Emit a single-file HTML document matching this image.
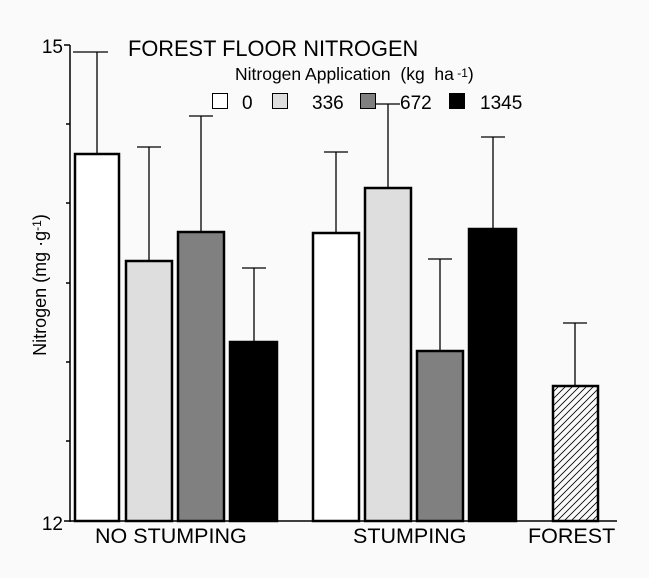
<!DOCTYPE html>
<html><head><style>body{margin:0;background:#fafafa}text{white-space:pre}</style></head><body>
<svg width="649" height="578" xmlns="http://www.w3.org/2000/svg" font-family="Liberation Sans, Arial, sans-serif" style="display:block">
<defs><pattern id="h" width="7" height="7" patternUnits="userSpaceOnUse"><path d="M-1,8 L8,-1 M-1,1 L1,-1 M6,8 L8,6" stroke="#000" stroke-width="0.8"/></pattern></defs>
<rect width="649" height="578" fill="#fafafa"/>
<g stroke="#000" stroke-width="1.5" fill="none">
<line x1="70" y1="45" x2="70" y2="522"/>
<line x1="70" y1="521" x2="617" y2="521"/>
<line x1="64" y1="45" x2="70" y2="45"/><line x1="66" y1="124" x2="70" y2="124"/><line x1="66" y1="203" x2="70" y2="203"/><line x1="66" y1="283" x2="70" y2="283"/><line x1="66" y1="362" x2="70" y2="362"/><line x1="66" y1="441" x2="70" y2="441"/><line x1="64" y1="521" x2="70" y2="521"/>
</g>
<g stroke="#000" stroke-width="1.3">
<line x1="97" y1="154" x2="97" y2="52"/><line x1="73" y1="52" x2="108" y2="52"/>
<line x1="149" y1="261" x2="149" y2="147"/><line x1="137" y1="147" x2="161" y2="147"/>
<line x1="201" y1="232" x2="201" y2="116"/><line x1="189" y1="116" x2="213" y2="116"/>
<line x1="254" y1="342" x2="254" y2="268"/><line x1="242" y1="268" x2="266" y2="268"/>
<line x1="336" y1="233" x2="336" y2="152"/><line x1="324" y1="152" x2="348" y2="152"/>
<line x1="388" y1="188" x2="388" y2="104"/><line x1="376" y1="104" x2="400" y2="104"/>
<line x1="440" y1="351" x2="440" y2="259"/><line x1="428" y1="259" x2="452" y2="259"/>
<line x1="493" y1="229" x2="493" y2="137"/><line x1="481" y1="137" x2="505" y2="137"/>
<line x1="575" y1="386" x2="575" y2="323"/><line x1="563" y1="323" x2="587" y2="323"/>
</g>
<g stroke="#000" stroke-width="2.5">
<rect x="75" y="154" width="44" height="367" fill="#fff"/>
<rect x="126" y="261" width="46" height="260" fill="#dedede"/>
<rect x="178" y="232" width="46" height="289" fill="#808080"/>
<rect x="230" y="342" width="47" height="179" fill="#000"/>
<rect x="313" y="233" width="46" height="288" fill="#fff"/>
<rect x="365" y="188" width="46" height="333" fill="#dedede"/>
<rect x="417" y="351" width="46" height="170" fill="#808080"/>
<rect x="469" y="229" width="47" height="292" fill="#000"/>
<rect x="553" y="386" width="45" height="135" fill="url(#h)"/>
</g>
<g stroke="#000" stroke-width="1">
<rect x="212.5" y="93.5" width="15" height="15" fill="#fff"/>
<rect x="272.5" y="93.5" width="15" height="15" fill="#dedede"/>
<rect x="360.5" y="93.5" width="15" height="15" fill="#808080"/>
<rect x="449.5" y="93.5" width="15" height="15" fill="#000"/>
</g>
<g fill="#000">
<text x="63" y="53" font-size="19" text-anchor="end">15</text>
<text x="63" y="530" font-size="19" text-anchor="end">12</text>
<text x="128" y="56" font-size="21.8">FOREST FLOOR NITROGEN</text>
<text x="235" y="80" font-size="17.5">Nitrogen Application  (kg  ha<tspan font-size="12" dy="-3"> -1</tspan><tspan dy="3">)</tspan></text>
<text x="242" y="109" font-size="19">0</text>
<text x="312" y="109" font-size="19">336</text>
<text x="400" y="109" font-size="19">672</text>
<text x="480" y="109" font-size="19">1345</text>
<text x="95" y="543" font-size="21.5">NO STUMPING</text>
<text x="353" y="543" font-size="21.5">STUMPING</text>
<text x="528" y="543" font-size="21.5">FOREST</text>
<text transform="translate(46,285) rotate(-90)" font-size="18" text-anchor="middle">Nitrogen (mg ·g<tspan font-size="12" dy="-5">-1</tspan><tspan dy="5">)</tspan></text>
</g>
</svg>
</body></html>
